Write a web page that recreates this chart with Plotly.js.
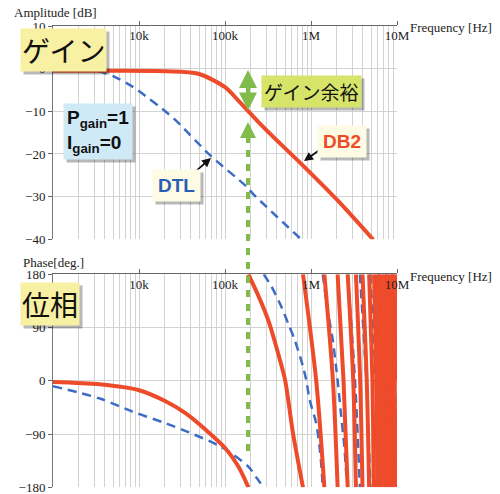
<!DOCTYPE html>
<html>
<head>
<meta charset="utf-8">
<script src="https://cdn.plot.ly/plotly-3.0.1.min.js"></script>
<style>html,body{margin:0;padding:0;background:#fff}#chart{width:500px;height:494px}</style>
</head>
<body>
<div id="chart"></div>
<script>
// ---------- data ----------
// Gain (dB)
const db2GainFreq = [1000, 5000, 20600, 49000, 101000, 143000, 187000, 255000, 364000, 760000, 2040000, 5300000];
const db2GainDb   = [-0.5, -0.5, -0.6, -1.2, -4.4, -7.5, -10.0, -12.9, -16.0, -22.2, -30.9, -40.1];
const dtlGainFreq = [1000, 2670, 3500, 5200, 8400, 13000, 18600, 27000, 68000, 177000, 213000, 760000];
const dtlGainDb   = [-0.4, -0.5, -0.7, -1.9, -4.2, -7.0, -9.4, -12.2, -20.4, -27.6, -29.4, -39.9];

// Phase (deg), each branch ends where the phase wraps (null = break)
const db2PhaseFreq = [
  1000, 3500, 10000, 20600, 35000, 60000, 101000, 143000, 187000, null,
  187000, 244000, 319000, 415000, 500000, 618000, 807000, null,
  807000, 1150000, 1430000, null,
  1430000, 1800000, 2040000, null,
  2040000, 2390000, 2670000, null,
  2670000, 3100000, 3330000, null,
  3330000, 3730000, 3970000, null,
  3970000, 4450000, 4740000, null,
  4740000, 5180000, 5410000, null,
  5410000, 5760000, 5920000, null,
  5920000, 6280000, 6460000, null,
  6460000, 6850000, 7090000, null,
  7090000, 7480000, 7720000, null,
  7720000, 8100000, 8350000, null,
  8350000, 8750000, 8980000, null,
  8980000, 9400000, 9610000, null,
  9610000, 10000000
];
const db2PhaseDeg = [
  -2, -6, -16, -35, -55, -83, -114, -145, -180, null,
  180, 144, 102, 46, 1, -89, -180, null,
  180, 0, -180, null,
  180, 0, -180, null,
  180, 0, -180, null,
  180, 0, -180, null,
  180, 0, -180, null,
  180, 0, -180, null,
  180, 0, -180, null,
  180, 0, -180, null,
  180, 0, -180, null,
  180, 0, -180, null,
  180, 0, -180, null,
  180, 0, -180, null,
  180, 0, -180, null,
  180, 0, -180, null,
  180, 0
];
const dtlPhaseFreq = [
  1000, 3500, 8400, 20600, 35000, 91000, 187000, 233000, 282000, null,
  282000, 348000, 453000, 542000, 647000, 807000, 881000, 964000, 1150000, 1256000, 1312000, 1371000, null,
  1371000, 1538000, 1791000, 1954000, 2040000, 2228000, 2443000, 2547000, 2667000, null,
  2667000, 3250000, 3700000, null,
  3700000, 4400000, 4900000, null,
  4900000, 5650000, 6200000, null,
  6200000, 7000000, 7500000, null,
  7500000, 8300000, 8800000, null,
  8800000, 10000000
];
const dtlPhaseDeg = [
  -9, -30, -52, -72, -85, -112, -145, -164, -180, null,
  180, 159, 125, 97, 69, 24, 1, -32, -72, -111, -139, -180, null,
  180, 125, 69, 24, 1, -55, -111, -150, -180, null,
  180, 0, -180, null,
  180, 0, -180, null,
  180, 0, -180, null,
  180, 0, -180, null,
  180, 0, -180, null,
  180, -140
];

// axis ticks
const freqTickVals = [1e4, 1e5, 1e6, 1e7];
const freqTickText = ['10k', '100k', '1M', '10M'];
const gainTickVals = [-40, -30, -20, -10, 0, 10];
const phaseTickVals = [-180, -90, 0, 90, 180];

// ---------- styling ----------
const RED = '#ee4b2b', BLUE = '#3d6cc4', GREEN = '#80bb4c';
const SERIF = '"Liberation Serif", "Times New Roman", serif';
const SANS = '"Liberation Sans", Arial, sans-serif';
const JP = '"Noto Sans CJK JP", sans-serif';
const GRID = '#d2d2d2';

const minorVals = [];
for (let d = 1e3; d < 1e7; d *= 10) for (let m = 2; m <= 9; m++) minorVals.push(d * m);

function xAxis(anchor) {
  return {
    type: 'log', range: [3, 7], anchor: anchor, side: 'top',
    tickmode: 'array', tickvals: freqTickVals, ticktext: freqTickText,
    ticks: 'outside', ticklen: 4, tickcolor: '#666',
    ticklabelposition: 'inside', ticklabeloverflow: 'allow', ticklabelstandoff: 5,
    tickfont: {family: SERIF, size: 13, color: '#222'},
    showline: true, linecolor: '#666', linewidth: 1,
    showgrid: true, gridcolor: GRID, gridwidth: 1,
    minor: {tickmode: 'array', tickvals: minorVals, showgrid: true, gridcolor: GRID, gridwidth: 1, ticks: ''},
    zeroline: false, fixedrange: true
  };
}
function yAxis(domain, range, vals) {
  return {
    domain: domain, range: range, tickmode: 'array', tickvals: vals,
    ticks: 'outside', ticklen: 4, tickcolor: '#666', ticklabeloverflow: 'allow',
    tickfont: {family: SERIF, size: 13, color: '#222'},
    showline: true, linecolor: '#777', linewidth: 1,
    showgrid: true, gridcolor: GRID, gridwidth: 1, zeroline: false, fixedrange: true
  };
}

const traces = [
  {x: dtlGainFreq, y: dtlGainDb, xaxis: 'x', yaxis: 'y', mode: 'lines', line: {color: BLUE, width: 2.5, dash: '9px,6px', shape: 'spline', smoothing: 0.8}},
  {x: db2GainFreq, y: db2GainDb, xaxis: 'x', yaxis: 'y', mode: 'lines', line: {color: RED, width: 4, shape: 'spline', smoothing: 0.8}},
  {x: dtlPhaseFreq, y: dtlPhaseDeg, xaxis: 'x2', yaxis: 'y2', mode: 'lines', connectgaps: false, line: {color: BLUE, width: 2.5, dash: '9px,6px', shape: 'spline', smoothing: 0.8}},
  {x: db2PhaseFreq, y: db2PhaseDeg, xaxis: 'x2', yaxis: 'y2', mode: 'lines', connectgaps: false, line: {color: RED, width: 4, shape: 'spline', smoothing: 0.8}}
];

const W = 344, H = 494, L = 53;
const px = v => (v - L) / W;
const py = v => 1 - v / H;

function box(text, cx, cy, bg, font, extra, pad) {
  const base = {xref: 'paper', yref: 'paper', x: px(cx), y: py(cy), xanchor: 'center', yanchor: 'middle', text: text, showarrow: false, borderpad: pad === undefined ? 3 : pad};
  const shadow = Object.assign({}, base, {font: Object.assign({}, font, {color: 'rgba(0,0,0,0)'}), bgcolor: 'rgba(0,0,0,0.28)', xshift: 3, yshift: -3}, extra || {});
  const main = Object.assign({}, base, {font: font, bgcolor: bg}, extra || {});
  return [shadow, main];
}

const annotations = [
  // axis titles
  {xref: 'paper', yref: 'paper', x: px(12), y: py(13), xanchor: 'left', yanchor: 'middle', text: 'Amplitude [dB]', showarrow: false, font: {family: SERIF, size: 13, color: '#222'}},
  {xref: 'paper', yref: 'paper', x: px(408), y: py(27), xanchor: 'left', yanchor: 'middle', text: 'Frequency [Hz]', showarrow: false, font: {family: SERIF, size: 13, color: '#222'}},
  {xref: 'paper', yref: 'paper', x: px(21), y: py(262), xanchor: 'left', yanchor: 'middle', text: 'Phase[deg.]', showarrow: false, font: {family: SERIF, size: 13, color: '#222'}},
  {xref: 'paper', yref: 'paper', x: px(408), y: py(276), xanchor: 'left', yanchor: 'middle', text: 'Frequency [Hz]', showarrow: false, font: {family: SERIF, size: 13, color: '#222'}},
  // arrows (drawn under the label boxes)
  {xref: 'paper', yref: 'paper', x: px(211), y: py(158), ax: -16, ay: 14, text: '', showarrow: true, arrowhead: 2, arrowsize: 1, arrowwidth: 1.8, arrowcolor: '#111'},
  {xref: 'paper', yref: 'paper', x: px(304), y: py(161), ax: 17, ay: -12, text: '', showarrow: true, arrowhead: 2, arrowsize: 1, arrowwidth: 1.8, arrowcolor: '#111'},
  {xref: 'paper', yref: 'paper', x: px(248), y: py(70), ax: 0, ay: 42, text: '', showarrow: true, arrowhead: 2, startarrowhead: 2, arrowside: 'end+start', arrowsize: 0.9, startarrowsize: 0.9, arrowwidth: 4, arrowcolor: GREEN},
  ...box('ゲイン', 63.5, 50, '#f8f0a2', {family: JP, size: 28, color: '#111'}, null, 1),
  ...box('位相', 50, 304, '#f8f0a2', {family: JP, size: 28, color: '#111'}, null, 1),
  ...box('ゲイン余裕', 311, 91, '#d6e46a', {family: JP, size: 19, color: '#111'}, null, 2),
  ...box('<b>P<sub>gain</sub>=1</b><br><b>I<sub>gain</sub>=0</b>', 97.5, 131.5, '#cfe9f6', {family: SANS, size: 19, color: '#111'}, {align: 'left'}, 3),
  ...box('<b>DTL</b>', 176.5, 185.5, '#fdfbe3', {family: SANS, size: 19, color: '#2a5db5'}, null, 5),
  ...box('<b>DB2</b>', 341.5, 141, '#fdfbe3', {family: SANS, size: 19, color: RED}, null, 5)
];

const shapes = [
  {type: 'line', xref: 'paper', yref: 'paper', x0: px(248), x1: px(248), y0: py(136), y1: py(452), line: {color: GREEN, width: 4, dash: '7px,7px'}},
  {type: 'path', xref: 'paper', yref: 'paper', path: `M ${px(248)} ${py(122)} L ${px(240)} ${py(138)} L ${px(256)} ${py(138)} Z`, fillcolor: GREEN, line: {width: 0}}
];

const layout = {
  width: 500, height: 494,
  margin: {l: 53, r: 103, t: 0, b: 0},
  paper_bgcolor: '#fff', plot_bgcolor: '#fff',
  showlegend: false,
  xaxis: xAxis('y'),
  yaxis: yAxis([py(239.3), py(26)], [-40, 10], gainTickVals),
  xaxis2: xAxis('y2'),
  yaxis2: yAxis([py(487.3), py(274.3)], [-180, 180], phaseTickVals),
  annotations: annotations,
  shapes: shapes
};

Plotly.newPlot('chart', traces, layout, {displayModeBar: false, staticPlot: true});
</script>
</body>
</html>
